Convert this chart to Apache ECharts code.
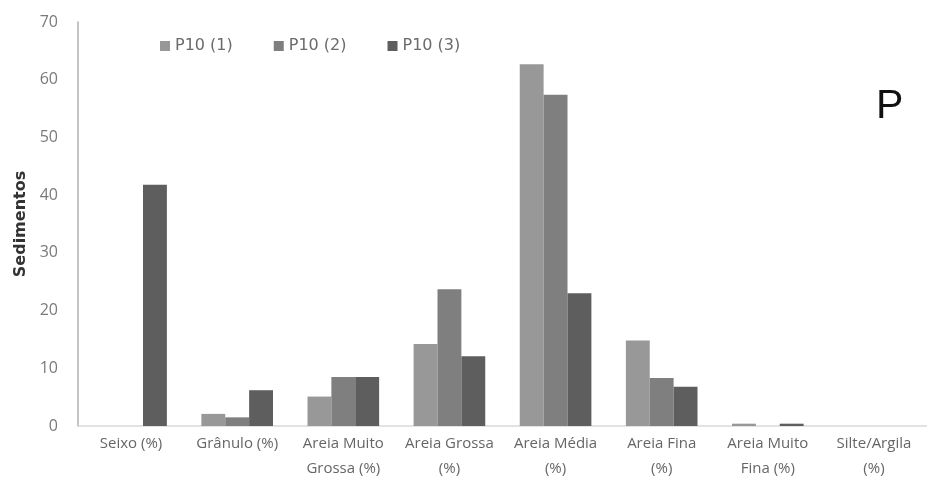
<!DOCTYPE html>
<html>
<head>
<meta charset="utf-8">
<script src="https://cdn.jsdelivr.net/npm/echarts@6/dist/echarts.min.js"></script>
<style>html,body{margin:0;padding:0;background:#fff}#c{width:927px;height:490px}</style>
</head>
<body>
<div id="c"></div>
<script>
const categories = ["Seixo (%)", "Grânulo (%)", "Areia Muito\nGrossa (%)", "Areia Grossa\n(%)", "Areia Média\n(%)", "Areia Fina\n(%)", "Areia Muito\nFina (%)", "Silte/Argila\n(%)"];
const seriesNames = ["P10 (1)", "P10 (2)", "P10 (3)"];
const p10_1 = [0, 2.1, 5.1, 14.2, 62.7, 14.8, 0.4, 0];
const p10_2 = [0, 1.5, 8.5, 23.7, 57.4, 8.3, 0, 0];
const p10_3 = [41.8, 6.2, 8.5, 12.1, 23.0, 6.8, 0.4, 0];
const yMin = 0, yMax = 70, yStep = 10;
const colors = ["#989898", "#7f7f7f", "#5e5e5e"];

const chart = echarts.init(document.getElementById('c'));
const fontFam = '"Open Sans", sans-serif';
chart.setOption({
  animation: false,
  color: colors,
  textStyle: { fontFamily: fontFam },
  legend: {
    left: 155, top: 33,
    icon: 'rect', itemWidth: 10, itemHeight: 10, itemGap: 41,
    textStyle: { color: '#6b6b6b', fontSize: 16, fontFamily: '"DejaVu Sans", sans-serif' },
    data: seriesNames
  },
  graphic: [{
    type: 'text', left: 876, top: 86,
    style: { text: 'P', fontSize: 41, fill: '#111', fontFamily: '"Liberation Sans", Arial, sans-serif' }
  }],
  grid: { left: 78, right: -3, top: 22, bottom: 64, containLabel: false },
  xAxis: {
    type: 'category', data: categories,
    axisLine: { lineStyle: { color: '#d9d9d9', width: 1.5 } },
    axisTick: { show: false },
    axisLabel: { color: '#666', fontSize: 15, lineHeight: 25, margin: 5, interval: 0, fontFamily: fontFam }
  },
  yAxis: {
    type: 'value', min: yMin, max: yMax, interval: yStep,
    name: 'Sedimentos', nameLocation: 'middle', nameRotate: 90, nameGap: 48,
    nameTextStyle: { fontWeight: 'bold', fontSize: 16, color: '#333', fontFamily: '"DejaVu Sans", sans-serif' },
    axisLine: { show: true, lineStyle: { color: '#b0b0b0', width: 1.5 } },
    axisTick: { show: false },
    splitLine: { show: false },
    axisLabel: { color: '#7a7a7a', fontSize: 16, margin: 20, fontFamily: fontFam }
  },
  series: [
    { name: seriesNames[0], type: 'bar', data: p10_1, barGap: '0%', barCategoryGap: '32.5%' },
    { name: seriesNames[1], type: 'bar', data: p10_2, barGap: '0%', barCategoryGap: '32.5%' },
    { name: seriesNames[2], type: 'bar', data: p10_3, barGap: '0%', barCategoryGap: '32.5%' }
  ]
});
</script>
</body>
</html>
